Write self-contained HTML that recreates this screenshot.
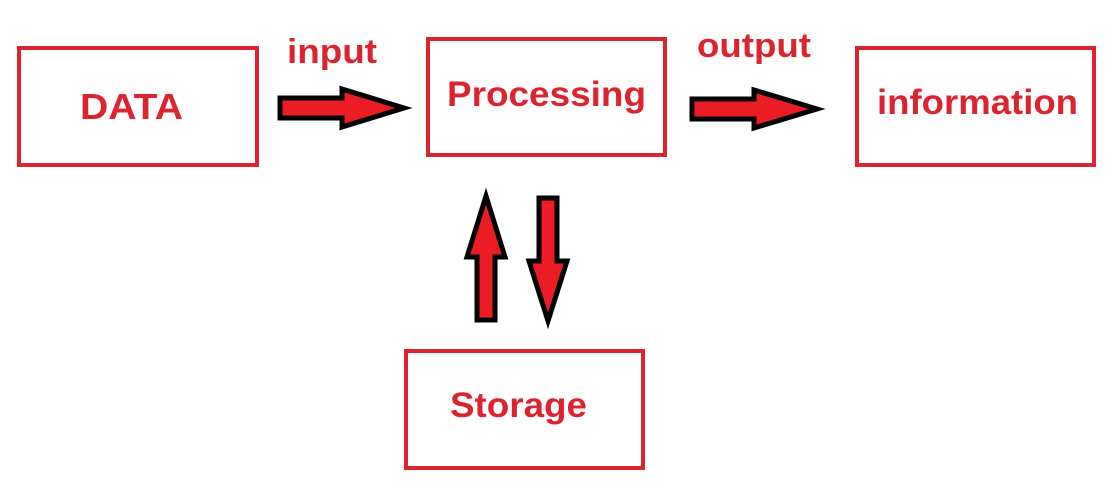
<!DOCTYPE html>
<html><head><style>html,body{margin:0;padding:0;background:#fff;width:1118px;height:491px;overflow:hidden}</style></head>
<body>
<svg width="1118" height="491" viewBox="0 0 1118 491" xmlns="http://www.w3.org/2000/svg">
<g fill="none" stroke="#dc2430" stroke-width="4">
<rect x="19" y="48" width="238" height="117"/>
<rect x="428" y="39" width="237" height="116"/>
<rect x="857" y="48" width="237" height="117"/>
<rect x="406" y="351" width="237" height="117"/>
</g>
<g fill="#ec1c24" stroke="#000" stroke-width="5" stroke-linejoin="miter">
<polygon points="280,98 342,98 342,89 404,108 342,127 342,118 280,118"/>
<polygon points="692,99 754,99 754,90 817,109 754,128 754,119 692,119"/>
<polygon points="477,320 477,257 467,257 486,196 505,257 495,257 495,320"/>
<polygon points="539,198 557,198 557,261 567,261 548,321 529,261 539,261"/>
</g>
<g fill="#dc2430" font-family="Liberation Sans, Arial, sans-serif" font-weight="bold">
<text x="80" y="119" font-size="36" textLength="103" lengthAdjust="spacingAndGlyphs">DATA</text>
<text x="287" y="63" font-size="34" textLength="90" lengthAdjust="spacingAndGlyphs">input</text>
<text x="447" y="106" font-size="35" textLength="199" lengthAdjust="spacingAndGlyphs">Processing</text>
<text x="697" y="57" font-size="34" textLength="114" lengthAdjust="spacingAndGlyphs">output</text>
<text x="877" y="114" font-size="35" textLength="201" lengthAdjust="spacingAndGlyphs">information</text>
<text x="450" y="417" font-size="35" textLength="137" lengthAdjust="spacingAndGlyphs">Storage</text>
</g>
</svg>
</body></html>
